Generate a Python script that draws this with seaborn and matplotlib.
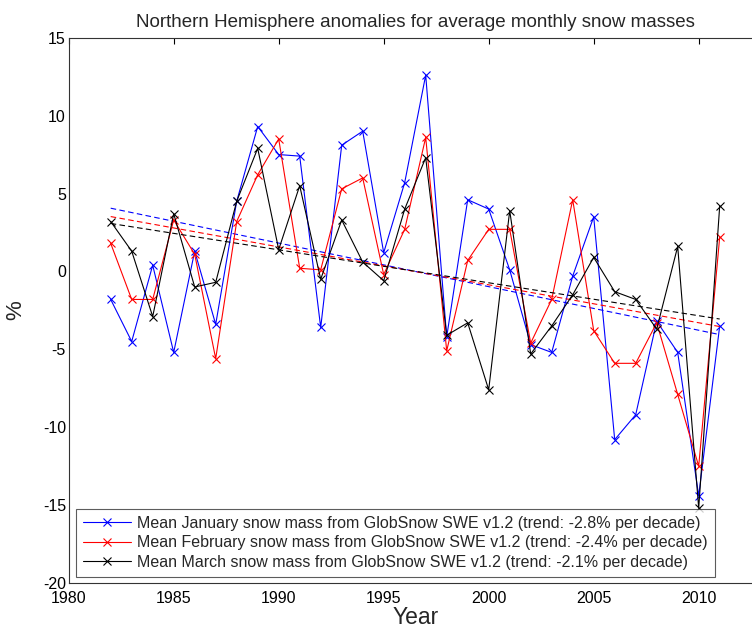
import numpy as np
import pandas as pd
import matplotlib
matplotlib.use('Agg')
import matplotlib.pyplot as plt
import seaborn as sns


years = list(range(1982, 2012))

jan = [-1.8, -4.5, 0.4, -5.2, 1.3, -3.4, 4.5, 9.3, 7.5, 7.4, -3.6, 8.1, 9.0, 1.2, 5.7,
       12.6, -4.2, 4.6, 4.0, 0.1, -4.7, -5.2, -0.3, 3.5, -10.8, -9.2, -3.2, -5.2, -14.4, -3.5]
feb = [1.8, -1.8, -1.8, 3.3, 1.1, -5.6, 3.2, 6.2, 8.5, 0.2, 0.1, 5.3, 6.0, -0.2, 2.7,
       8.6, -5.1, 0.7, 2.7, 2.7, -4.6, -1.8, 4.6, -3.8, -5.9, -5.9, -3.3, -7.9, -12.5, 2.2]
mar = [3.2, 1.3, -2.9, 3.7, -1.0, -0.7, 4.5, 7.9, 1.4, 5.5, -0.5, 3.3, 0.6, -0.6, 4.0,
       7.3, -4.1, -3.3, -7.6, 3.9, -5.3, -3.5, -1.5, 0.9, -1.3, -1.8, -3.7, 1.6, -15.2, 4.2]

labels = [
    'Mean January snow mass from GlobSnow SWE v1.2 (trend: -2.8% per decade)',
    'Mean February snow mass from GlobSnow SWE v1.2 (trend: -2.4% per decade)',
    'Mean March snow mass from GlobSnow SWE v1.2 (trend: -2.1% per decade)',
]
colors = ['blue', 'red', 'black']

sns.set_style('white')
plt.rcParams['font.family'] = ['Liberation Sans', 'DejaVu Sans']
plt.rcParams['axes.unicode_minus'] = False

fig = plt.figure(figsize=(7.52, 6.29), dpi=100)
ax = fig.add_axes([68.7 / 752, 1 - 583 / 629, (761.7 - 68.7) / 752, (583 - 37.7) / 629])

handles = []
for vals, col, lab in zip([jan, feb, mar], colors, labels):
    df = pd.DataFrame({'Year': years, 'Value': vals})
    sns.lineplot(data=df, x='Year', y='Value', color=col, marker='x', markersize=5.5,
                 markeredgewidth=0.8, markeredgecolor=col, linewidth=0.8, ax=ax, label=lab)
    handles.append(ax.lines[-1])
    # linear trend
    p = np.polyfit(years, vals, 1)
    trend = np.polyval(p, years)
    ax.plot([years[0], years[-1]], [trend[0], trend[-1]], color=col, linestyle='--',
            dashes=(5, 3), linewidth=0.8)

ax.set_xlim(1980, 2013)
ax.set_ylim(-20, 15)
ax.set_xticks(range(1980, 2015, 5))
ax.set_yticks(range(-20, 16, 5))
ax.tick_params(direction='in', top=True, right=True, length=4, width=0.8,
               labelsize=11.5, pad=2, colors='black')
ax.tick_params(axis='x', pad=6)
for s in ax.spines.values():
    s.set_color('#333333')
    s.set_linewidth(0.8)

ax.set_title('Northern Hemisphere anomalies for average monthly snow masses',
             fontsize=13.5, pad=8)
ax.set_xlabel('Year', fontsize=16.5, labelpad=0)
ax.set_ylabel('%', fontsize=16, labelpad=12)

leg = ax.legend(handles=handles, labels=labels, loc='lower left',
                bbox_to_anchor=(7.3 / 693, 6.3 / 545.3), borderaxespad=0,
                fontsize=11.5, fancybox=False, frameon=True, handlelength=3.0,
                handletextpad=0.4, labelspacing=0.27, borderpad=0.45)
leg.get_frame().set_edgecolor('#333333')
leg.get_frame().set_linewidth(0.8)

fig.savefig('out.png', dpi=100)
